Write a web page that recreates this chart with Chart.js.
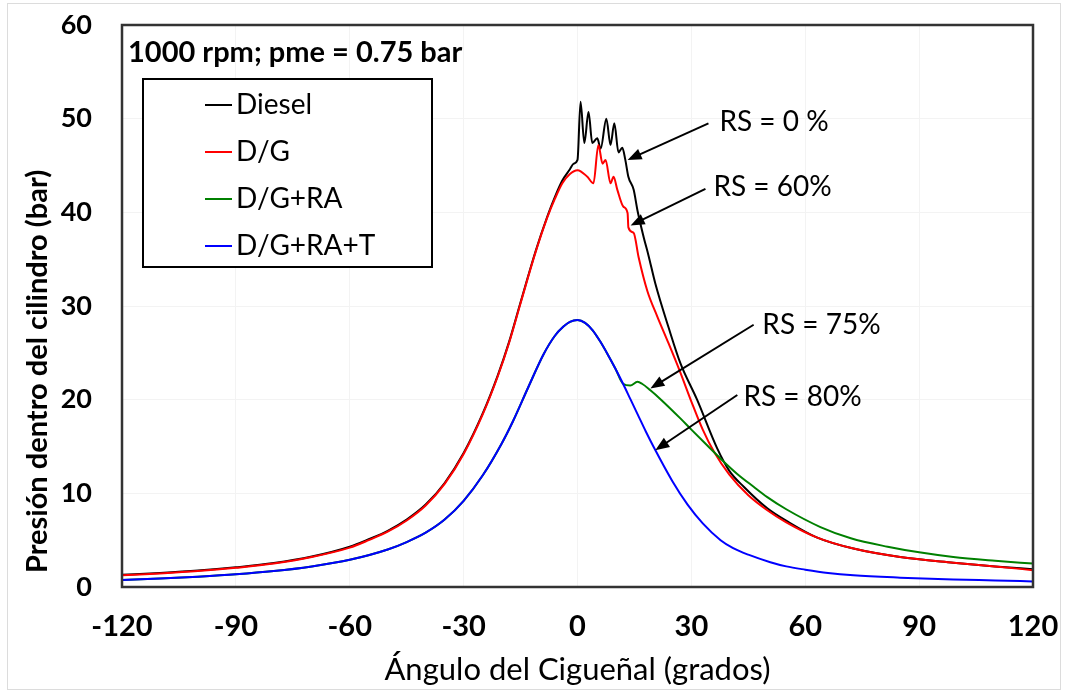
<!DOCTYPE html>
<html>
<head>
<meta charset="utf-8">
<script src="https://cdn.jsdelivr.net/npm/chart.js@4.4.1/dist/chart.umd.min.js"></script>
<style>
  html, body { margin: 0; padding: 0; background: #fff; }
</style>
</head>
<body>
<canvas id="chart" width="1065" height="693"></canvas>
<script>
// crank angle (deg) and in-cylinder pressure (bar)
const dieselAngle = [-120, -110, -100, -90, -80, -70, -60, -55, -50, -45, -40, -35, -30, -25, -21, -18, -15, -11, -8, -6, -4,
  -2, -1, 0, 0.8, 1.8, 2.9, 3.9, 5.2, 6.1, 7.6, 8.7, 9.7, 10.8, 11.8, 12.6, 13.4, 14.8, 15.8, 17.4, 18.7,
  20.5, 24, 27.1, 31.5, 36.8, 40, 43.8, 50, 55.3, 63, 72.7, 85, 99, 110, 120];
const dieselP = [1.3, 1.5, 1.75, 2.1, 2.55, 3.25, 4.3, 5.1, 6.0, 7.2, 8.8, 11.1, 14.3, 18.5, 22.6, 26.2, 30.4, 35.9, 39.5, 41.6, 43.4,
  44.6, 45.2, 45.6, 51.8, 47.4, 50.7, 47.4, 47.9, 46.8, 50.0, 47.2, 49.5, 46.4, 46.9, 45.6, 43.8, 42.4, 40.2, 37.4, 35.4,
  32.4, 27.7, 23.9, 20.0, 14.8, 12.4, 10.7, 8.4, 7.0, 5.3, 4.1, 3.2, 2.6, 2.2, 1.9];

const dgAngle = [-120, -110, -100, -90, -80, -70, -60, -55, -50, -45, -40, -35, -30, -25, -21, -18, -15, -11, -8, -6, -4,
  -2, 0, 2.6, 4.2, 5.5, 6.6, 7.4, 8.7, 9.5, 10.5, 12.1, 13.2, 13.4, 14.8, 16.1, 18.4, 21, 24, 27, 30,
  33, 36, 40, 45, 50, 55, 63, 72.7, 85, 99, 110, 120];
const dgP = [1.25, 1.45, 1.7, 2.05, 2.5, 3.2, 4.2, 5.0, 5.9, 7.1, 8.7, 11.0, 14.2, 18.4, 22.5, 26.1, 30.3, 35.8, 39.4, 41.4, 43.1,
  44.1, 44.5, 43.8, 43.1, 47.2, 45.2, 45.6, 43.1, 43.8, 42.4, 40.6, 39.9, 38.4, 37.8, 35.2, 31.6, 28.9, 26.0, 23.0, 19.8,
  16.8, 14.4, 12.0, 9.8, 8.2, 6.9, 5.3, 4.1, 3.2, 2.6, 2.2, 1.8];

const raAngle = [-120, -110, -100, -90, -80, -70, -60, -50, -45, -40, -35, -30, -25, -20, -17, -13, -9, -6, -3.7, -2,
  0, 2, 4, 6, 8, 10, 12, 13.9, 15.8, 17, 19.2, 22, 27.1, 30, 34.2, 37.7, 42, 46.4, 50, 55,
  64, 72, 81.7, 90, 99, 110, 120];
const raP = [0.75, 0.9, 1.1, 1.35, 1.7, 2.2, 2.9, 4.0, 4.8, 5.8, 7.2, 9.2, 11.9, 15.3, 17.7, 21.3, 24.8, 26.8, 27.8, 28.3,
  28.5, 28.2, 27.4, 26.2, 24.8, 23.3, 21.7, 21.5, 21.9, 21.7, 21.0, 20.0, 18.0, 16.8, 15.1, 13.7, 12.1, 10.7, 9.6, 8.3,
  6.4, 5.2, 4.3, 3.7, 3.2, 2.8, 2.5];

const tAngle = [-120, -110, -100, -90, -80, -70, -60, -50, -45, -40, -35, -30, -25, -20, -17, -13, -9, -6, -3.7, -2,
  0, 2, 4, 6, 8, 10, 12, 14, 16, 18, 20, 25, 29, 33, 37.7, 41, 45, 50.8, 55, 60, 66, 72.7, 85,
  99, 110, 120];
const tP = [0.75, 0.9, 1.1, 1.35, 1.7, 2.2, 2.9, 4.0, 4.8, 5.8, 7.2, 9.2, 11.9, 15.3, 17.7, 21.3, 24.8, 26.8, 27.8, 28.3,
  28.5, 28.2, 27.4, 26.2, 24.8, 23.3, 21.7, 20.0, 18.3, 16.6, 15.0, 11.3, 8.8, 6.8, 5.0, 4.15, 3.45, 2.65, 2.2, 1.85, 1.5, 1.25, 1.0,
  0.8, 0.7, 0.6];

const seriesNames = ['Diesel', 'D/G', 'D/G+RA', 'D/G+RA+T'];
const seriesColors = ['#000000', '#ff0000', '#008000', '#0000ff'];

const xTicks = [-120, -90, -60, -30, 0, 30, 60, 90, 120];
const yTicks = [0, 10, 20, 30, 40, 50, 60];

const caseTitle = '1000 rpm; pme = 0.75 bar';
const xTitle = 'Ángulo del Cigueñal (grados)';
const yTitle = 'Presión dentro del cilindro (bar)';

// RS notes: label anchor and arrow start/end, in (angle, bar)
const rsLabels = ['RS = 0 %', 'RS = 60%', 'RS = 75%', 'RS = 80%'];
const rsLabelAt = [[37.4, 49.6], [35.8, 42.7], [48.7, 28.0], [43.7, 20.3]];
const rsArrowFrom = [[34.5, 49.5], [33.7, 42.5], [46.4, 28.0], [42.1, 20.5]];
const rsArrowTo = [[13.2, 45.6], [14.0, 38.6], [19.2, 21.2], [20.5, 14.6]];

const toPoints = (xs, ys) => xs.map((v, i) => ({ x: v, y: ys[i] }));
const curves = [[dieselAngle, dieselP], [dgAngle, dgP], [raAngle, raP], [tAngle, tP]];

const FONT = 'Lato, "Open Sans", sans-serif';

function arrow(ctx, x0, y0, x1, y1) {
  const a = Math.atan2(y1 - y0, x1 - x0), L = 14, W = 5.5;
  ctx.beginPath();
  ctx.moveTo(x0, y0);
  ctx.lineTo(x1 - Math.cos(a) * L * 0.7, y1 - Math.sin(a) * L * 0.7);
  ctx.stroke();
  ctx.beginPath();
  ctx.moveTo(x1, y1);
  ctx.lineTo(x1 - L * Math.cos(a) + W * Math.sin(a), y1 - L * Math.sin(a) - W * Math.cos(a));
  ctx.lineTo(x1 - L * Math.cos(a) - W * Math.sin(a), y1 - L * Math.sin(a) + W * Math.cos(a));
  ctx.closePath();
  ctx.fill();
}

const overlay = {
  id: 'overlay',
  beforeDraw(chart) {
    const { ctx } = chart;
    ctx.save();
    ctx.fillStyle = '#fff';
    ctx.fillRect(0, 0, chart.width, chart.height);
    ctx.strokeStyle = '#dcdcdc';
    ctx.lineWidth = 1;
    ctx.strokeRect(7.5, 3.5, chart.width - 12, chart.height - 7);
    ctx.restore();
  },
  afterDraw(chart) {
    const { ctx, chartArea: a, scales: { x, y } } = chart;
    ctx.save();

    // plot frame
    ctx.strokeStyle = '#333';
    ctx.lineWidth = 2.5;
    ctx.strokeRect(a.left, a.top, a.right - a.left, a.bottom - a.top);

    // y axis title
    ctx.save();
    ctx.translate(38, a.bottom - 14);
    ctx.rotate(-Math.PI / 2);
    ctx.font = 'bold 29px ' + FONT;
    ctx.fillStyle = '#000';
    ctx.textAlign = 'left';
    ctx.textBaseline = 'middle';
    ctx.fillText(yTitle, 0, 0);
    ctx.restore();

    // case title
    ctx.fillStyle = '#000';
    ctx.font = 'bold 29px ' + FONT;
    ctx.textAlign = 'left';
    ctx.textBaseline = 'middle';
    ctx.fillText(caseTitle, a.left + 6, a.top + 28);

    // legend box
    const bx = a.left + 21, by = a.top + 54, bw = 289, bh = 188;
    ctx.fillStyle = '#fff';
    ctx.fillRect(bx, by, bw, bh);
    ctx.strokeStyle = '#000';
    ctx.lineWidth = 2;
    ctx.strokeRect(bx, by, bw, bh);
    ctx.font = '28px ' + FONT;
    chart.data.datasets.forEach((ds, i) => {
      const ly = by + 26 + i * 47;
      ctx.strokeStyle = ds.borderColor;
      ctx.lineWidth = 2;
      ctx.beginPath();
      ctx.moveTo(bx + 62, ly);
      ctx.lineTo(bx + 89, ly);
      ctx.stroke();
      ctx.fillStyle = '#000';
      ctx.fillText(ds.label, bx + 93, ly);
    });

    // RS notes with arrows
    ctx.fillStyle = '#000';
    ctx.strokeStyle = '#000';
    ctx.lineWidth = 2;
    ctx.font = '28px ' + FONT;
    rsLabels.forEach((t, i) => {
      ctx.fillText(t, x.getPixelForValue(rsLabelAt[i][0]), y.getPixelForValue(rsLabelAt[i][1]));
      arrow(ctx,
        x.getPixelForValue(rsArrowFrom[i][0]), y.getPixelForValue(rsArrowFrom[i][1]),
        x.getPixelForValue(rsArrowTo[i][0]), y.getPixelForValue(rsArrowTo[i][1]));
    });
    ctx.restore();
  }
};

new Chart(document.getElementById('chart'), {
  type: 'line',
  data: {
    datasets: curves.map((c, i) => ({
      label: seriesNames[i],
      data: toPoints(c[0], c[1]),
      borderColor: seriesColors[i],
      backgroundColor: seriesColors[i],
      borderWidth: 2,
      pointRadius: 0,
      fill: false,
      cubicInterpolationMode: 'monotone',
      order: 4 - i,
    })),
  },
  options: {
    responsive: false,
    animation: false,
    layout: { padding: { top: 25, right: 32, left: 0, bottom: 0 } },
    plugins: { legend: { display: false }, tooltip: { enabled: false } },
    scales: {
      x: {
        type: 'linear',
        min: xTicks[0],
        max: xTicks[xTicks.length - 1],
        afterBuildTicks: s => { s.ticks = xTicks.map(v => ({ value: v })); },
        afterFit: s => { s.height = 106; s.paddingLeft = 0; s.paddingRight = 0; },
        ticks: { padding: 22, color: '#000', font: { family: FONT, size: 29, weight: 'bold' }, maxRotation: 0 },
        grid: { color: '#f3f3f3', drawTicks: false },
        border: { display: false },
        title: { display: true, text: xTitle, color: '#000', font: { family: FONT, size: 31 }, padding: { top: 0, bottom: 4 } },
      },
      y: {
        min: yTicks[0],
        max: yTicks[yTicks.length - 1],
        afterBuildTicks: s => { s.ticks = yTicks.map(v => ({ value: v })); },
        afterFit: s => { s.width = 122; s.paddingTop = 0; s.paddingBottom = 0; },
        ticks: { padding: 30, color: '#000', font: { family: FONT, size: 27, weight: 'bold' } },
        grid: { color: '#f3f3f3', drawTicks: false },
        border: { display: false },
      },
    },
  },
  plugins: [overlay],
});
</script>
</body>
</html>
